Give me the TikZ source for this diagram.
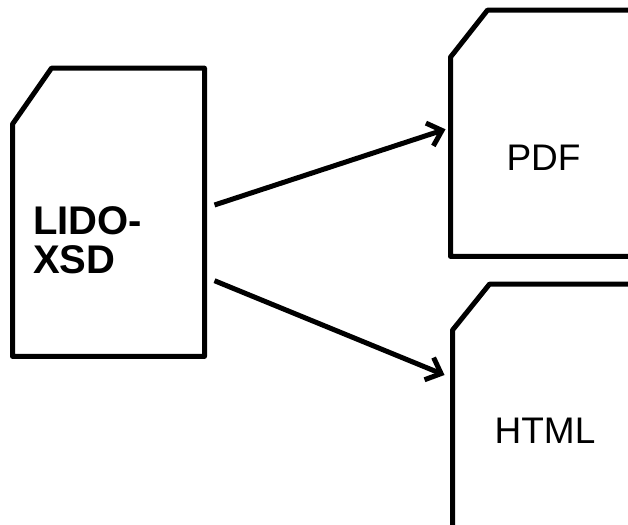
\documentclass[tikz,border=0pt]{standalone}
\usepackage{fontspec}
\setmainfont{Liberation Sans}
\usetikzlibrary{arrows.meta,calc}

\begin{document}
\begin{tikzpicture}[x=1pt,y=1pt,line width=5pt,>={Straight Barb[length=13pt,width=24pt]}]
  \tikzstyle{doc} = [draw=none,inner sep=0pt,minimum width=187pt]
  \tikzstyle{outline} = [draw,line join=round]
  \tikzstyle{flow} = [draw,->]
  \tikzstyle{label} = [inner sep=0pt,font=\fontsize{37}{39}\selectfont]
  \useasboundingbox (0,0) rectangle (628,524);
  \clip (0,0) rectangle (628,524);

  \node[doc,minimum height=283.3pt]	(lido) at (108.5,311.7)	{};
  \node[doc,minimum height=241.3pt]	(pdf)  at (546.5,390.7)	{};
  \node[doc,minimum height=241.3pt]	(html) at (548.5,116.7)	{};

  % document outlines, top left corner cut off
  \draw[outline] ([yshift=-56pt]lido.north west) -- ([xshift=39pt]lido.north west) -- (lido.north east)
	-- (lido.south east) -- (lido.south west) -- cycle;
  \draw[outline] ([yshift=-47pt]pdf.north west) -- ([xshift=37pt]pdf.north west) -- (pdf.north east)
	-- (pdf.south east) -- (pdf.south west) -- cycle;
  \draw[outline] ([yshift=-46pt]html.north west) -- ([xshift=37pt]html.north west) -- (html.north east)
	-- (html.south east) -- (html.south west) -- cycle;

  \node[label,anchor=west,align=left,font=\bfseries\fontsize{40}{39}\selectfont]
	(lidotext) at ([xshift=18pt,yshift=-28pt]lido.west) {LIDO-\\XSD};
  \node[label]	(pdftext)  at ([xshift=-3pt,yshift=-24.7pt]pdf.center)	{PDF};
  \node[label]	(htmltext) at ([xshift=-3.5pt,yshift=-23pt]html.center)	{HTML};

  \path[flow] ([xshift=10pt,yshift=7.3pt]lido.east) -- ([xshift=-5pt,yshift=4pt]pdf.west);
  \path[flow] ([xshift=10pt,yshift=-68.4pt]lido.east) -- ([xshift=-8pt,yshift=32.3pt]html.west);
\end{tikzpicture}
\end{document}
